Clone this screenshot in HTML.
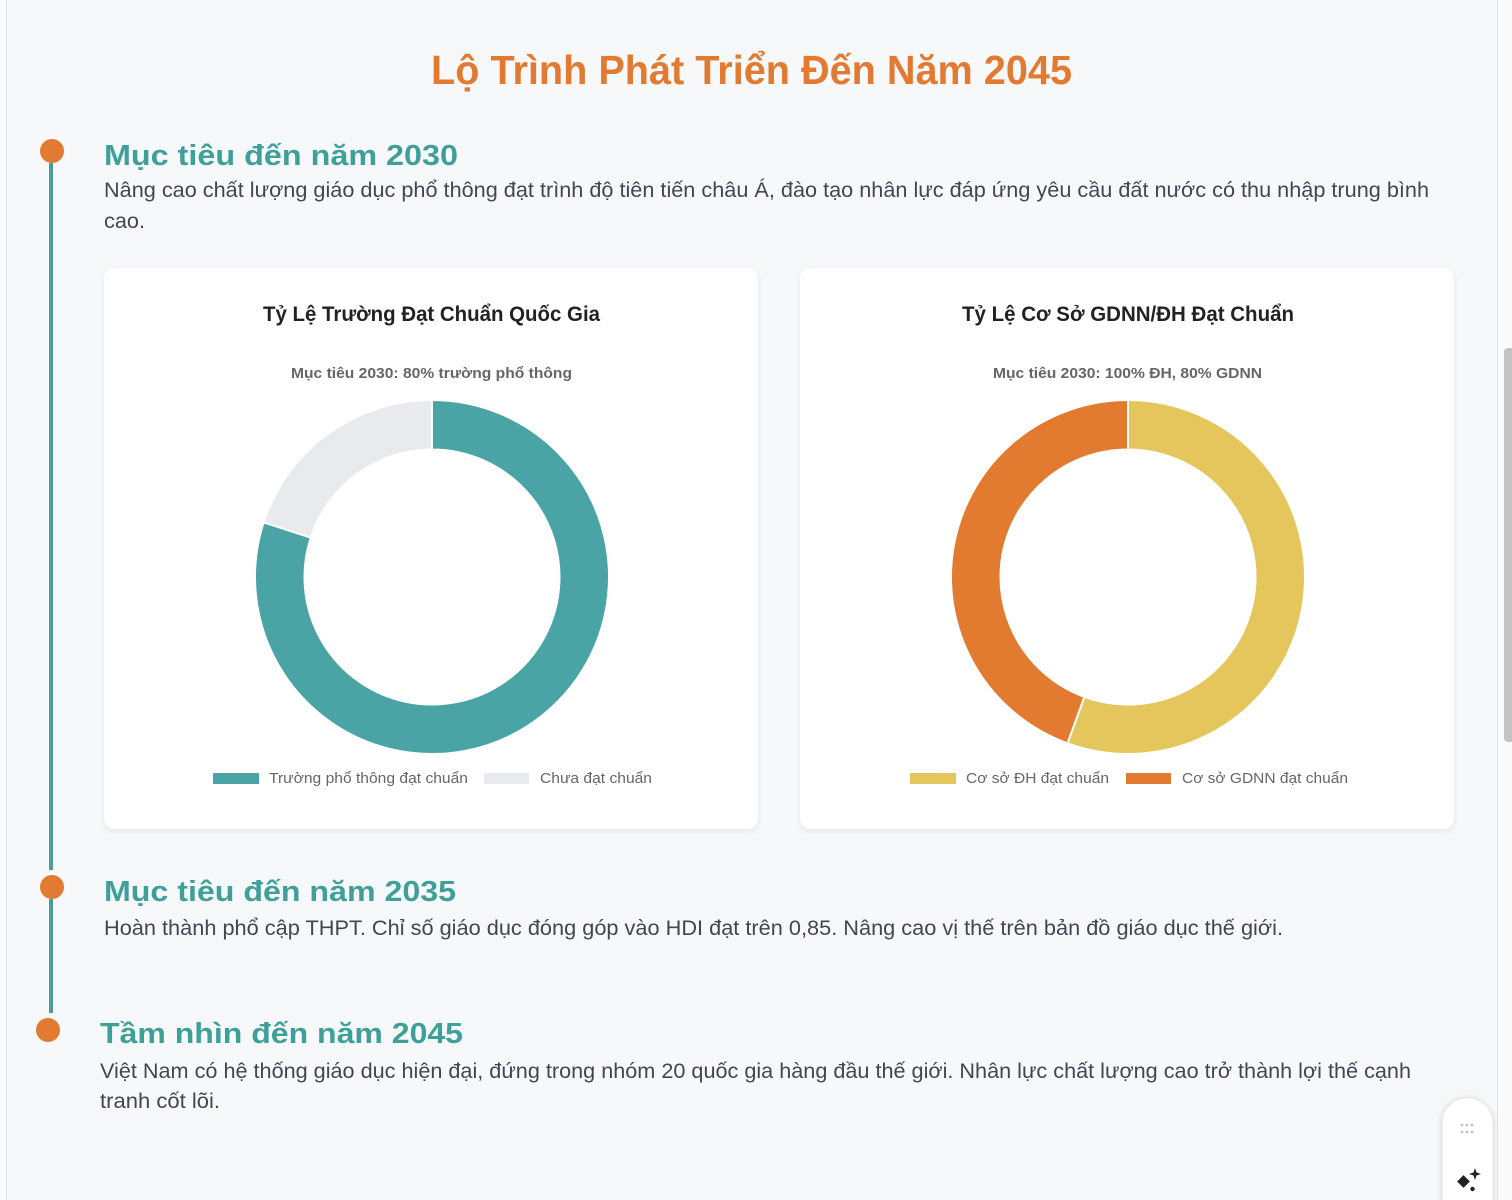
<!DOCTYPE html>
<html>
<head>
<meta charset="utf-8">
<style>
html,body{margin:0;padding:0;width:1512px;height:1200px;overflow:hidden;background:#f8f9fa;}
svg{display:block;}
text{font-family:"Liberation Sans","DejaVu Sans",sans-serif;}
</style>
</head>
<body>
<svg width="1512" height="1200" viewBox="0 0 1512 1200" xmlns="http://www.w3.org/2000/svg">
  <defs>
    <filter id="sh" x="-5%" y="-5%" width="110%" height="112%">
      <feDropShadow dx="0" dy="2" stdDeviation="3" flood-color="#000" flood-opacity="0.08"/>
    </filter>
    <filter id="sh2" x="-40%" y="-20%" width="180%" height="140%">
      <feDropShadow dx="0" dy="1" stdDeviation="3" flood-color="#000" flood-opacity="0.15"/>
    </filter>
  </defs>

  <!-- page background -->
  <rect x="0" y="0" width="1512" height="1200" fill="#fafafa"/>
  <rect x="6" y="0" width="1491" height="1200" fill="#f7f8fa"/>
  <line x1="6.5" y1="0" x2="6.5" y2="1200" stroke="#e4e5e8" stroke-width="1"/>
  <line x1="1497.5" y1="0" x2="1497.5" y2="1200" stroke="#e4e5e8" stroke-width="1"/>
  <!-- scrollbar thumb -->
  <rect x="1504" y="348" width="10" height="394" rx="4" fill="#c3c3c3"/>

  <!-- Title -->
  <text x="431" y="84" font-size="41" font-weight="bold" fill="#e27b31" textLength="641" lengthAdjust="spacingAndGlyphs">Lộ Trình Phát Triển Đến Năm 2045</text>

  <!-- timeline -->
  <rect x="49" y="163" width="4" height="707" fill="#4a9e9c"/>
  <rect x="49" y="899" width="4" height="114" fill="#4a9e9c"/>
  <circle cx="52" cy="151" r="12" fill="#e27b31"/>
  <circle cx="52" cy="887" r="12" fill="#e27b31"/>
  <circle cx="48" cy="1030" r="12" fill="#e27b31"/>

  <!-- Section 1 -->
  <text x="104" y="165" font-size="29" font-weight="bold" fill="#3f9f99" textLength="354" lengthAdjust="spacingAndGlyphs">Mục tiêu đến năm 2030</text>
  <text x="104" y="197" font-size="21" fill="#414752" textLength="1325" lengthAdjust="spacingAndGlyphs">Nâng cao chất lượng giáo dục phổ thông đạt trình độ tiên tiến châu Á, đào tạo nhân lực đáp ứng yêu cầu đất nước có thu nhập trung bình</text>
  <text x="104" y="228" font-size="21" fill="#414752" textLength="41" lengthAdjust="spacingAndGlyphs">cao.</text>

  <!-- Card 1 -->
  <rect x="104" y="268" width="654" height="561" rx="10" fill="#ffffff" filter="url(#sh)"/>
  <text x="263" y="321" font-size="21" font-weight="bold" fill="#222" textLength="337" lengthAdjust="spacingAndGlyphs">Tỷ Lệ Trường Đạt Chuẩn Quốc Gia</text>
  <text x="291" y="378" font-size="15" font-weight="bold" fill="#666" textLength="281" lengthAdjust="spacingAndGlyphs">Mục tiêu 2030: 80% trường phổ thông</text>
  <path d="M432,400 A177,177 0 1 1 263.66,522.31 L310.74,537.60 A127.5,127.5 0 1 0 432,449.5 Z" fill="#4aa4a6" stroke="#fff" stroke-width="2"/>
  <path d="M263.66,522.31 A177,177 0 0 1 432,400 L432,449.5 A127.5,127.5 0 0 0 310.74,537.60 Z" fill="#e9eaee" stroke="#fff" stroke-width="2"/>
  <rect x="213" y="773" width="46" height="11" fill="#4aa4a6"/>
  <text x="269" y="783" font-size="15" fill="#666" textLength="199" lengthAdjust="spacingAndGlyphs">Trường phổ thông đạt chuẩn</text>
  <rect x="484" y="773" width="45" height="11" fill="#e9eaee"/>
  <text x="540" y="783" font-size="15" fill="#666" textLength="112" lengthAdjust="spacingAndGlyphs">Chưa đạt chuẩn</text>

  <!-- Card 2 -->
  <rect x="800" y="268" width="654" height="561" rx="10" fill="#ffffff" filter="url(#sh)"/>
  <text x="962" y="321" font-size="21" font-weight="bold" fill="#222" textLength="332" lengthAdjust="spacingAndGlyphs">Tỷ Lệ Cơ Sở GDNN/ĐH Đạt Chuẩn</text>
  <text x="993" y="378" font-size="15" font-weight="bold" fill="#666" textLength="269" lengthAdjust="spacingAndGlyphs">Mục tiêu 2030: 100% ĐH, 80% GDNN</text>
  <path d="M1128,400 A177,177 0 1 1 1067.46,743.33 L1084.39,696.81 A127.5,127.5 0 1 0 1128,449.5 Z" fill="#e4c65c" stroke="#fff" stroke-width="2"/>
  <path d="M1067.46,743.33 A177,177 0 0 1 1128,400 L1128,449.5 A127.5,127.5 0 0 0 1084.39,696.81 Z" fill="#e27a30" stroke="#fff" stroke-width="2"/>
  <rect x="910" y="773" width="46" height="11" fill="#e4c65c"/>
  <text x="966" y="783" font-size="15" fill="#666" textLength="143" lengthAdjust="spacingAndGlyphs">Cơ sở ĐH đạt chuẩn</text>
  <rect x="1126" y="773" width="45" height="11" fill="#e27a30"/>
  <text x="1182" y="783" font-size="15" fill="#666" textLength="166" lengthAdjust="spacingAndGlyphs">Cơ sở GDNN đạt chuẩn</text>

  <!-- Section 2 -->
  <text x="104" y="901" font-size="29" font-weight="bold" fill="#3f9f99" textLength="352" lengthAdjust="spacingAndGlyphs">Mục tiêu đến năm 2035</text>
  <text x="104" y="935" font-size="21" fill="#414752" textLength="1179" lengthAdjust="spacingAndGlyphs">Hoàn thành phổ cập THPT. Chỉ số giáo dục đóng góp vào HDI đạt trên 0,85. Nâng cao vị thế trên bản đồ giáo dục thế giới.</text>

  <!-- Section 3 -->
  <text x="100" y="1043" font-size="29" font-weight="bold" fill="#3f9f99" textLength="363" lengthAdjust="spacingAndGlyphs">Tầm nhìn đến năm 2045</text>
  <text x="100" y="1078" font-size="21" fill="#414752" textLength="1311" lengthAdjust="spacingAndGlyphs">Việt Nam có hệ thống giáo dục hiện đại, đứng trong nhóm 20 quốc gia hàng đầu thế giới. Nhân lực chất lượng cao trở thành lợi thế cạnh</text>
  <text x="100" y="1108" font-size="21" fill="#414752" textLength="120" lengthAdjust="spacingAndGlyphs">tranh cốt lõi.</text>

  <!-- floating widget -->
  <rect x="1442" y="1098" width="51" height="140" rx="25" fill="#ffffff" stroke="#e6e6e6" stroke-width="1" filter="url(#sh2)"/>
  <g fill="#c4c4c4">
    <circle cx="1462" cy="1125" r="1.4"/><circle cx="1467" cy="1125" r="1.4"/><circle cx="1472" cy="1125" r="1.4"/>
    <circle cx="1462" cy="1132" r="1.4"/><circle cx="1467" cy="1132" r="1.4"/><circle cx="1472" cy="1132" r="1.4"/>
  </g>
  <g fill="#222">
    <rect x="1459" y="1177" width="9" height="9" transform="rotate(45 1463.5 1181.5)"/>
    <path d="M1475,1168 L1476.5,1172.5 L1481,1174 L1476.5,1175.5 L1475,1180 L1473.5,1175.5 L1469,1174 L1473.5,1172.5 Z"/>
    <circle cx="1472.5" cy="1189" r="2.2"/>
  </g>
</svg>
</body>
</html>
